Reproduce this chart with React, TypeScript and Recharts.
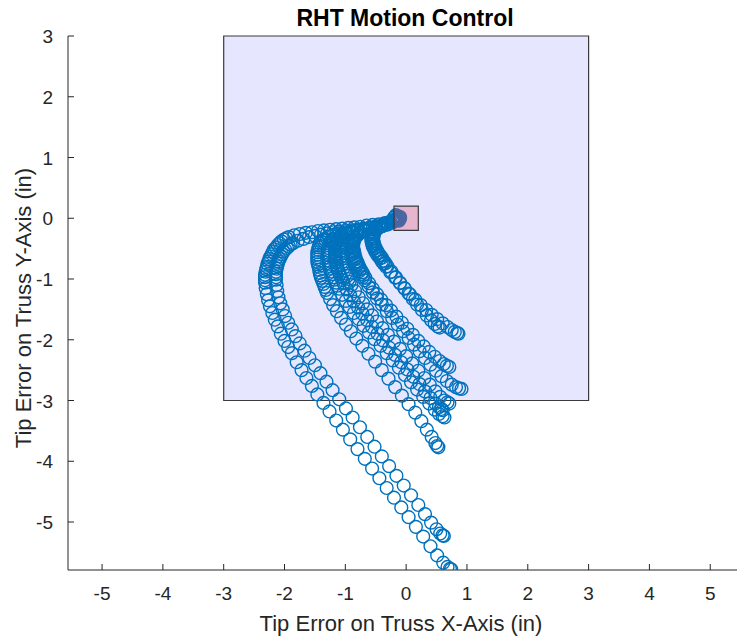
import React from 'react';
import { ScatterChart, Scatter, XAxis, YAxis, ReferenceArea } from 'recharts';

const chartTitle = 'RHT Motion Control';
const xLabel = 'Tip Error on Truss X-Axis (in)';
const yLabel = 'Tip Error on Truss Y-Axis (in)';
const xTicks = [-5, -4, -3, -2, -1, 0, 1, 2, 3, 4, 5];
const yTicks = [-5, -4, -3, -2, -1, 0, 1, 2, 3];
const xDomain = [-5.56, 5.44];
const yDomain = [-5.79, 3];
const envelope = { x1: -3, x2: 3, y1: -3, y2: 3 };
const target = { x1: -0.2, x2: 0.2, y1: -0.2, y2: 0.2 };

const track1 = [[-0.1,0.02],[-0.13,0.01],[-0.15,0],[-0.18,-0.02],[-0.22,-0.04],[-0.27,-0.06],[-0.35,-0.08],[-0.45,-0.1],[-0.55,-0.11],[-0.65,-0.12],[-0.75,-0.14],[-0.85,-0.15],[-0.95,-0.16],[-1.05,-0.17],[-1.15,-0.18],[-1.25,-0.19],[-1.35,-0.2],[-1.45,-0.21],[-1.55,-0.23],[-1.65,-0.24],[-1.75,-0.26],[-1.84,-0.28],[-1.93,-0.31],[-1.97,-0.33],[-2.01,-0.35],[-2.05,-0.38],[-2.08,-0.41],[-2.11,-0.44],[-2.14,-0.48],[-2.17,-0.51],[-2.19,-0.55],[-2.21,-0.59],[-2.23,-0.63],[-2.25,-0.67],[-2.26,-0.71],[-2.28,-0.75],[-2.29,-0.8],[-2.3,-0.84],[-2.31,-0.88],[-2.32,-0.93],[-2.32,-0.97],[-2.32,-1.02],[-2.32,-1.06],[-2.31,-1.15],[-2.29,-1.25],[-2.27,-1.35],[-2.24,-1.45],[-2.2,-1.56],[-2.16,-1.67],[-2.11,-1.78],[-2.06,-1.9],[-2.0,-2.02],[-1.94,-2.12],[-1.88,-2.22],[-1.8,-2.37],[-1.72,-2.5],[-1.64,-2.63],[-1.55,-2.76],[-1.46,-2.9],[-1.36,-3.04],[-1.26,-3.18],[-1.15,-3.33],[-1.04,-3.48],[-0.92,-3.64],[-0.8,-3.8],[-0.68,-3.96],[-0.56,-4.12],[-0.44,-4.28],[-0.32,-4.44],[-0.2,-4.6],[-0.08,-4.76],[0.04,-4.92],[0.16,-5.08],[0.28,-5.24],[0.4,-5.4],[0.51,-5.55],[0.61,-5.67],[0.68,-5.74],[0.72,-5.77],[0.74,-5.78]];

const track2 = [[-0.12,0.01],[-0.15,-0.01],[-0.2,-0.04],[-0.25,-0.07],[-0.32,-0.1],[-0.4,-0.12],[-0.5,-0.14],[-0.6,-0.16],[-0.7,-0.18],[-0.8,-0.19],[-0.9,-0.2],[-1.0,-0.21],[-1.1,-0.22],[-1.2,-0.23],[-1.3,-0.25],[-1.4,-0.27],[-1.5,-0.29],[-1.6,-0.31],[-1.69,-0.34],[-1.78,-0.37],[-1.86,-0.41],[-1.9,-0.43],[-1.93,-0.46],[-1.96,-0.49],[-1.99,-0.52],[-2.02,-0.55],[-2.04,-0.59],[-2.06,-0.63],[-2.08,-0.67],[-2.1,-0.71],[-2.11,-0.75],[-2.12,-0.79],[-2.13,-0.83],[-2.14,-0.88],[-2.14,-0.92],[-2.14,-0.97],[-2.14,-1.01],[-2.13,-1.1],[-2.12,-1.2],[-2.1,-1.3],[-2.07,-1.4],[-2.03,-1.5],[-1.99,-1.61],[-1.94,-1.72],[-1.88,-1.83],[-1.82,-1.94],[-1.75,-2.06],[-1.67,-2.18],[-1.59,-2.3],[-1.5,-2.42],[-1.41,-2.55],[-1.31,-2.69],[-1.21,-2.83],[-1.1,-2.98],[-0.99,-3.13],[-0.88,-3.28],[-0.76,-3.44],[-0.64,-3.6],[-0.52,-3.76],[-0.4,-3.92],[-0.28,-4.08],[-0.16,-4.24],[-0.04,-4.4],[0.08,-4.56],[0.2,-4.72],[0.31,-4.87],[0.41,-5.01],[0.5,-5.12],[0.56,-5.19],[0.6,-5.22],[0.62,-5.23]];

const track3 = [[-0.11,-0.02],[-0.15,-0.01],[-0.22,-0.05],[-0.3,-0.09],[-0.4,-0.12],[-0.5,-0.14],[-0.6,-0.16],[-0.7,-0.18],[-0.8,-0.2],[-0.9,-0.22],[-1.0,-0.23],[-1.1,-0.25],[-1.19,-0.27],[-1.27,-0.3],[-1.34,-0.34],[-1.37,-0.36],[-1.39,-0.39],[-1.41,-0.42],[-1.43,-0.45],[-1.44,-0.48],[-1.45,-0.52],[-1.46,-0.56],[-1.46,-0.6],[-1.46,-0.64],[-1.46,-0.68],[-1.46,-0.72],[-1.45,-0.76],[-1.44,-0.8],[-1.43,-0.85],[-1.42,-0.9],[-1.41,-0.94],[-1.4,-0.98],[-1.38,-1.03],[-1.36,-1.08],[-1.34,-1.13],[-1.32,-1.18],[-1.3,-1.23],[-1.25,-1.33],[-1.2,-1.43],[-1.14,-1.53],[-1.07,-1.64],[-0.99,-1.75],[-0.91,-1.86],[-0.82,-1.98],[-0.72,-2.1],[-0.62,-2.23],[-0.51,-2.36],[-0.4,-2.5],[-0.29,-2.64],[-0.18,-2.78],[-0.07,-2.92],[0.04,-3.06],[0.15,-3.2],[0.25,-3.34],[0.34,-3.48],[0.42,-3.6],[0.48,-3.7],[0.51,-3.75],[0.53,-3.77]];

const track4 = [[-0.13,0.03],[-0.15,-0.02],[-0.22,-0.05],[-0.3,-0.09],[-0.4,-0.12],[-0.5,-0.15],[-0.6,-0.17],[-0.7,-0.19],[-0.8,-0.21],[-0.9,-0.23],[-0.99,-0.25],[-1.07,-0.27],[-1.14,-0.3],[-1.2,-0.34],[-1.22,-0.36],[-1.24,-0.39],[-1.26,-0.42],[-1.27,-0.45],[-1.28,-0.49],[-1.28,-0.53],[-1.28,-0.57],[-1.28,-0.61],[-1.28,-0.65],[-1.27,-0.7],[-1.26,-0.75],[-1.25,-0.79],[-1.24,-0.83],[-1.22,-0.88],[-1.21,-0.92],[-1.19,-0.97],[-1.17,-1.01],[-1.15,-1.06],[-1.13,-1.11],[-1.1,-1.16],[-1.05,-1.26],[-0.99,-1.36],[-0.93,-1.46],[-0.86,-1.56],[-0.78,-1.66],[-0.7,-1.77],[-0.61,-1.88],[-0.52,-1.99],[-0.42,-2.1],[-0.32,-2.22],[-0.22,-2.34],[-0.12,-2.46],[-0.02,-2.58],[0.08,-2.7],[0.18,-2.82],[0.28,-2.94],[0.38,-3.05],[0.47,-3.15],[0.54,-3.22],[0.6,-3.26],[0.63,-3.28]];

const track5 = [[-0.18,0.03],[-0.15,-0.01],[-0.22,-0.05],[-0.3,-0.08],[-0.4,-0.11],[-0.5,-0.14],[-0.6,-0.16],[-0.7,-0.18],[-0.8,-0.2],[-0.88,-0.22],[-0.95,-0.25],[-1.0,-0.29],[-1.02,-0.31],[-1.04,-0.34],[-1.06,-0.37],[-1.07,-0.4],[-1.08,-0.43],[-1.09,-0.47],[-1.09,-0.51],[-1.09,-0.55],[-1.09,-0.6],[-1.08,-0.64],[-1.07,-0.68],[-1.06,-0.73],[-1.05,-0.77],[-1.03,-0.82],[-1.01,-0.86],[-0.99,-0.91],[-0.97,-0.95],[-0.95,-1.0],[-0.93,-1.05],[-0.9,-1.1],[-0.84,-1.2],[-0.78,-1.3],[-0.71,-1.4],[-0.64,-1.5],[-0.56,-1.6],[-0.48,-1.7],[-0.39,-1.81],[-0.3,-1.92],[-0.2,-2.03],[-0.1,-2.15],[0.0,-2.27],[0.1,-2.39],[0.2,-2.51],[0.3,-2.63],[0.39,-2.74],[0.48,-2.85],[0.56,-2.94],[0.63,-3.0],[0.68,-3.03],[0.71,-3.05]];

const track6 = [[-0.19,-0.03],[-0.15,-0.02],[-0.22,-0.06],[-0.3,-0.1],[-0.4,-0.13],[-0.5,-0.15],[-0.6,-0.17],[-0.7,-0.19],[-0.8,-0.21],[-0.9,-0.23],[-0.98,-0.25],[-1.05,-0.28],[-1.1,-0.32],[-1.12,-0.34],[-1.14,-0.37],[-1.15,-0.4],[-1.16,-0.43],[-1.17,-0.47],[-1.17,-0.51],[-1.17,-0.55],[-1.17,-0.6],[-1.17,-0.64],[-1.16,-0.69],[-1.15,-0.73],[-1.14,-0.78],[-1.13,-0.82],[-1.11,-0.87],[-1.09,-0.92],[-1.07,-0.97],[-1.05,-1.02],[-1.03,-1.07],[-0.98,-1.17],[-0.92,-1.27],[-0.86,-1.37],[-0.79,-1.47],[-0.72,-1.57],[-0.64,-1.68],[-0.56,-1.79],[-0.47,-1.9],[-0.38,-2.01],[-0.28,-2.13],[-0.18,-2.25],[-0.08,-2.37],[0.02,-2.49],[0.12,-2.61],[0.22,-2.73],[0.31,-2.85],[0.4,-2.96],[0.48,-3.05],[0.54,-3.11],[0.58,-3.14],[0.6,-3.16]];

const track7 = [[-0.12,-0.04],[-0.15,-0.02],[-0.22,-0.05],[-0.3,-0.09],[-0.4,-0.12],[-0.5,-0.14],[-0.6,-0.17],[-0.68,-0.2],[-0.75,-0.23],[-0.8,-0.27],[-0.82,-0.29],[-0.84,-0.32],[-0.85,-0.35],[-0.86,-0.38],[-0.87,-0.41],[-0.87,-0.45],[-0.87,-0.49],[-0.86,-0.53],[-0.85,-0.57],[-0.84,-0.62],[-0.83,-0.66],[-0.81,-0.71],[-0.79,-0.75],[-0.77,-0.8],[-0.75,-0.84],[-0.72,-0.89],[-0.7,-0.93],[-0.67,-0.98],[-0.61,-1.07],[-0.55,-1.16],[-0.48,-1.25],[-0.41,-1.34],[-0.33,-1.43],[-0.25,-1.52],[-0.16,-1.62],[-0.07,-1.72],[0.02,-1.82],[0.11,-1.92],[0.2,-2.02],[0.29,-2.11],[0.38,-2.2],[0.47,-2.28],[0.55,-2.35],[0.62,-2.4],[0.67,-2.43],[0.71,-2.45]];

const track8 = [[-0.17,0.05],[-0.15,-0.03],[-0.22,-0.06],[-0.3,-0.1],[-0.4,-0.13],[-0.5,-0.15],[-0.6,-0.18],[-0.68,-0.21],[-0.75,-0.24],[-0.8,-0.28],[-0.84,-0.33],[-0.86,-0.36],[-0.87,-0.39],[-0.88,-0.42],[-0.88,-0.46],[-0.88,-0.5],[-0.88,-0.55],[-0.87,-0.59],[-0.86,-0.64],[-0.85,-0.68],[-0.83,-0.73],[-0.81,-0.77],[-0.79,-0.82],[-0.77,-0.87],[-0.74,-0.92],[-0.71,-0.97],[-0.68,-1.02],[-0.62,-1.12],[-0.55,-1.22],[-0.48,-1.32],[-0.4,-1.42],[-0.32,-1.53],[-0.23,-1.64],[-0.14,-1.75],[-0.05,-1.86],[0.04,-1.97],[0.13,-2.08],[0.22,-2.19],[0.31,-2.3],[0.4,-2.41],[0.49,-2.51],[0.58,-2.6],[0.67,-2.68],[0.75,-2.74],[0.82,-2.78],[0.87,-2.8],[0.91,-2.81]];

const track9 = [[-0.1,0.0],[-0.15,-0.01],[-0.22,-0.04],[-0.3,-0.08],[-0.37,-0.11],[-0.43,-0.14],[-0.48,-0.18],[-0.52,-0.23],[-0.53,-0.26],[-0.54,-0.3],[-0.54,-0.33],[-0.54,-0.37],[-0.53,-0.41],[-0.52,-0.45],[-0.5,-0.49],[-0.48,-0.53],[-0.46,-0.57],[-0.43,-0.61],[-0.4,-0.65],[-0.37,-0.7],[-0.34,-0.74],[-0.31,-0.79],[-0.24,-0.88],[-0.17,-0.97],[-0.1,-1.06],[-0.03,-1.15],[0.04,-1.24],[0.11,-1.33],[0.18,-1.42],[0.26,-1.51],[0.34,-1.6],[0.41,-1.68],[0.47,-1.74],[0.52,-1.78],[0.55,-1.8]];

const track10 = [[-0.2,0.01],[-0.15,-0.02],[-0.22,-0.05],[-0.3,-0.09],[-0.38,-0.12],[-0.45,-0.15],[-0.51,-0.19],[-0.55,-0.24],[-0.56,-0.27],[-0.57,-0.31],[-0.57,-0.34],[-0.57,-0.38],[-0.56,-0.42],[-0.55,-0.46],[-0.53,-0.5],[-0.51,-0.54],[-0.49,-0.58],[-0.46,-0.62],[-0.43,-0.66],[-0.4,-0.71],[-0.37,-0.75],[-0.33,-0.8],[-0.26,-0.89],[-0.18,-0.98],[-0.1,-1.07],[-0.02,-1.16],[0.06,-1.25],[0.15,-1.34],[0.24,-1.43],[0.33,-1.51],[0.42,-1.59],[0.51,-1.66],[0.6,-1.73],[0.68,-1.79],[0.75,-1.84],[0.8,-1.87],[0.84,-1.89],[0.86,-1.9]];

const tracks = [track1, track2, track3, track4, track5, track6, track7, track8, track9, track10];

const FONT = "'Liberation Sans', Arial, Helvetica, sans-serif";
const AXIS_COLOR = '#262626';
const MARKER = '#0072BD';

const toPoints = (t: number[][]) => t.map(([x, y]) => ({ x, y }));

const Ring = (props: any) => {
  const { cx, cy } = props;
  if (cx == null || cy == null) return null;
  return <circle cx={cx} cy={cy} r={6.4} fill="none" stroke={MARKER} strokeWidth={1.4} />;
};

const XTick = (props: any) => {
  const { x, y, payload } = props;
  return (
    <g>
      <line x1={x} y1={y} x2={x} y2={y - 6} stroke={AXIS_COLOR} strokeWidth={1} />
      <text x={x} y={y + 30} textAnchor="middle" fill={AXIS_COLOR} fontSize={19} fontFamily={FONT}>
        {payload.value}
      </text>
    </g>
  );
};

const YTick = (props: any) => {
  const { x, y, payload } = props;
  return (
    <g>
      <line x1={x} y1={y} x2={x + 6} y2={y} stroke={AXIS_COLOR} strokeWidth={1} />
      <text x={x - 15} y={y + 7} textAnchor="end" fill={AXIS_COLOR} fontSize={19} fontFamily={FONT}>
        {payload.value}
      </text>
    </g>
  );
};

export default function App() {
  return (
    <div style={{ position: 'absolute', left: 0, top: 0, width: 737, height: 639, background: '#fff', overflow: 'hidden' }}>
      <ScatterChart width={737} height={639} margin={{ top: 36, right: 0, bottom: 0, left: 0 }}>
        <XAxis
          type="number"
          dataKey="x"
          domain={xDomain}
          ticks={xTicks}
          allowDataOverflow
          height={69}
          tickSize={0}
          tickMargin={0}
          tickLine={false}
          axisLine={{ stroke: AXIS_COLOR, strokeWidth: 1 }}
          tick={<XTick />}
          interval={0}
        />
        <YAxis
          type="number"
          dataKey="y"
          domain={yDomain}
          ticks={yTicks}
          allowDataOverflow
          width={68}
          tickSize={0}
          tickMargin={0}
          tickLine={false}
          axisLine={{ stroke: AXIS_COLOR, strokeWidth: 1 }}
          tick={<YTick />}
          interval={0}
        />
        <ReferenceArea
          x1={envelope.x1}
          x2={envelope.x2}
          y1={envelope.y1}
          y2={envelope.y2}
          fill="#E6E6FF"
          fillOpacity={1}
          stroke="#3a3a3a"
          strokeWidth={1.2}
          ifOverflow="visible"
        />
        {tracks.map((t, i) => (
          <Scatter key={i} data={toPoints(t)} shape={<Ring />} isAnimationActive={false} />
        ))}
        <ReferenceArea
          x1={target.x1}
          x2={target.x2}
          y1={target.y1}
          y2={target.y2}
          fill="#E6506A"
          fillOpacity={0.32}
          stroke="#3a3a3a"
          strokeWidth={1.2}
          ifOverflow="visible"
          {...({ zIndex: 700 } as any)}
        />
      </ScatterChart>
      <svg width={737} height={639} style={{ position: 'absolute', left: 0, top: 0, pointerEvents: 'none' }}>
        <text x={405} y={26} textAnchor="middle" fontSize={23} fontWeight="bold" fontFamily={FONT} fill="#000">
          {chartTitle}
        </text>
        <text x={401} y={631} textAnchor="middle" fontSize={22} fontFamily={FONT} fill={AXIS_COLOR}>
          {xLabel}
        </text>
        <text x={31} y={308} textAnchor="middle" fontSize={22} fontFamily={FONT} fill={AXIS_COLOR} transform="rotate(-90, 31, 308)">
          {yLabel}
        </text>
      </svg>
    </div>
  );
}
